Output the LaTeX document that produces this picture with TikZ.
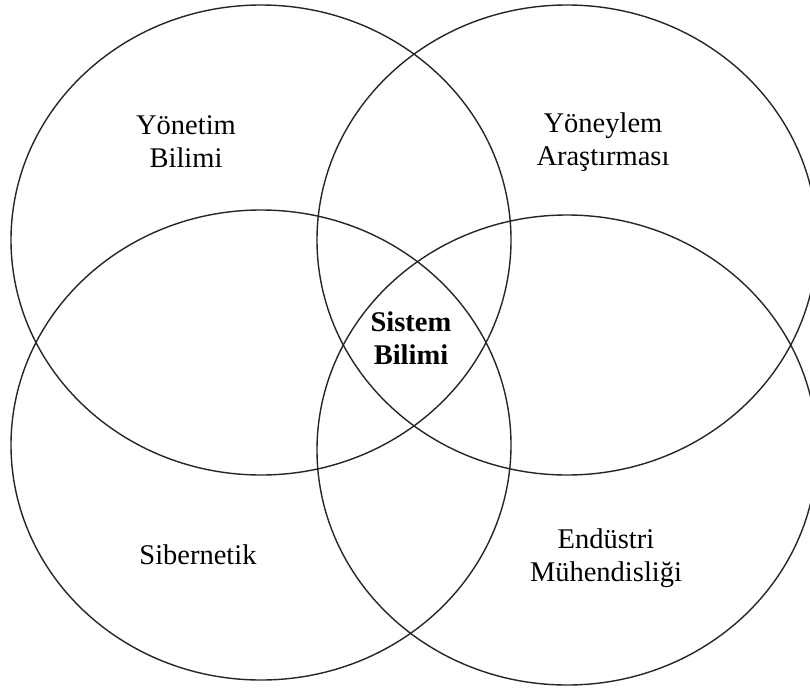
\documentclass[tikz,border=0pt]{standalone}
\usepackage{fontspec}
\setmainfont{Liberation Serif}
\usepackage{tikz}

\begin{document}
\begin{tikzpicture}[
  x=1pt, y=-1pt,
  ring/.style={draw=black!85, line width=1.4pt},
  label/.style={align=center, font=\fontsize{28.5}{33}\selectfont, inner sep=0pt},
  core/.style={label, font=\fontsize{28.5}{33}\selectfont\bfseries}
]
\useasboundingbox[fill=white] (0,0) rectangle (810,688);
\clip (0,0) rectangle (810,688);

% four overlapping fields
\draw[ring] (261,240) ellipse [x radius=250pt, y radius=235pt];
\draw[ring] (567,240) ellipse [x radius=250pt, y radius=235pt];
\draw[ring] (261,445) ellipse [x radius=250pt, y radius=235pt];
\draw[ring] (567,450) ellipse [x radius=250pt, y radius=235pt];

\node[label] (yb) at (186,142) {Yönetim\\Bilimi};
\node[label] (ya) at (603,142) {Yöneylem\\Araştırması};
\node[core] (sb) at (411,338) {Sistem\\Bilimi};
\node[label] (sib) at (198,555) {Sibernetik};
\node[label] (em) at (606,558) {Endüstri\\Mühendisliği};

\end{tikzpicture}
\end{document}
